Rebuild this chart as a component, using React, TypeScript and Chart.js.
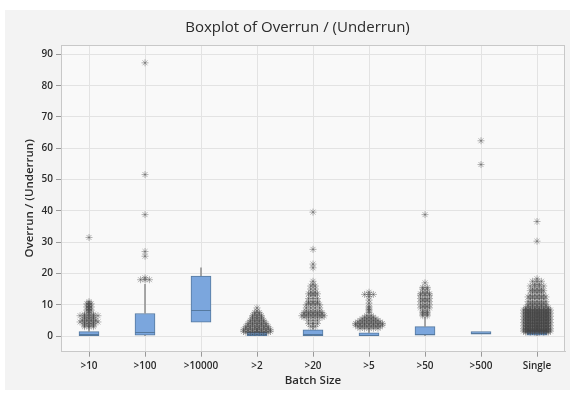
import React, { useEffect, useRef } from 'react';
import { Chart, registerables } from 'chart.js';

Chart.register(...registerables);

const categories = ['>10', '>100', '>10000', '>2', '>20', '>5', '>50', '>500', 'Single'];
const q1Values = [0, 0.3, 4.4, 0.1, 0.1, 0, 0.3, 0.6, 0.3];
const medianValues = [0.5, 1.4, 8.3, 0.6, 0.8, 0.4, 0.6, 1.0, 0.9];
const q3Values = [1.4, 7.2, 19.2, 1.3, 2.0, 1.0, 3.0, 1.4, 1.8];
const whiskerLowValues = [0, 0, 4.4, 0, 0, 0, 0, 0.6, 0];
const whiskerHighValues = [3.4, 16.6, 21.9, 2.7, 4.5, 2.4, 6.0, 1.4, 3.8];
const yTickValues = [0, 10, 20, 30, 40, 50, 60, 70, 80, 90];

// outliers: [value, count]
const outliersGt10: [number, number][] = [
  [3, 3], [3.5, 3], [4, 3], [4.5, 5], [5, 4], [5.5, 3], [6, 3], [6.5, 5], [7, 3],
  [7.5, 1], [8, 1], [8.3, 2], [8.5, 1], [9, 1], [9.3, 2], [9.5, 1], [10, 1], [10.3, 2], [10.5, 1], [11, 1], [31.5, 1],
];
const outliersGt100: [number, number][] = [
  [18, 3], [18.6, 1], [25.5, 1], [27, 1], [38.8, 1], [51.6, 1], [87.3, 1],
];
const outliersGt10000: [number, number][] = [];
const outliersGt2: [number, number][] = [
  [9, 1], [8, 1], [7.5, 2], [7, 2], [6.5, 3], [6, 3], [5.5, 3], [5, 4], [4.5, 4],
  [4, 5], [3.5, 5], [3, 6], [2.5, 6], [2, 7], [1.5, 7], [1.2, 6],
];
const outliersGt20: [number, number][] = [
  [39.6, 1], [27.7, 1], [23, 1], [21.8, 1],
  [17.5, 1], [16.5, 1], [16, 2], [15, 2], [14, 2], [13.5, 3], [13, 2], [12, 3], [11, 3],
  [10.5, 3], [10, 4], [9, 4], [8, 4], [7.5, 5], [7, 5], [6.5, 6], [6, 5], [5, 3], [4, 3], [3, 2],
];
const outliersGt5: [number, number][] = [
  [14, 1], [13.3, 3], [12.6, 1], [11.5, 1], [10.5, 1], [9.5, 1], [9, 1], [8.5, 1], [8, 1], [7.5, 1],
  [6.5, 2], [6, 3], [5.5, 4], [5, 5], [4.5, 6], [4, 7], [3.5, 7], [3, 6], [2.5, 5],
];
const outliersGt50: [number, number][] = [
  [38.8, 1], [17, 1], [15.5, 2], [15, 2], [14, 2], [13.5, 3], [13, 3], [12, 3], [11.5, 2],
  [11, 3], [10, 3], [9.5, 2], [9, 3], [8, 2], [7.5, 2], [7, 2], [6.5, 2],
];
const outliersGt500: [number, number][] = [[54.8, 1], [62.4, 1]];
const outliersSingle: [number, number][] = [
  [36.6, 1], [30.3, 1],
  [18.3, 1], [17.5, 3], [16.5, 2], [16, 4], [15, 3], [14.5, 4], [14, 3], [13, 4], [12.5, 5],
  [12, 4], [11, 5], [10.5, 4], [10, 5], [9.5, 5],
  [9, 6], [8.5, 6], [8, 6], [7.5, 6], [7, 6], [6.5, 6], [6, 6], [5.5, 6], [5, 6], [4.5, 6],
  [4, 6], [3.5, 6], [3, 6], [2.5, 6], [2, 6], [1.5, 6],
  [8, 5], [7, 5], [6, 5], [5, 5], [4, 5], [3, 5], [2, 5], [1.2, 6],
  [8.3, 7], [7.3, 7], [6.3, 7], [5.3, 7], [4.3, 7], [3.3, 7], [2.3, 7], [1.6, 7],
];
const outlierGroups = [
  outliersGt10, outliersGt100, outliersGt10000, outliersGt2, outliersGt20,
  outliersGt5, outliersGt50, outliersGt500, outliersSingle,
];

const DODGE = 0.08;
const GRID_COLOR = '#e3e3e3';
const TICK_COLOR = '#999999';

function buildOutlierPoints() {
  const pts: { x: number; y: number }[] = [];
  outlierGroups.forEach((group, i) => {
    group.forEach(([v, n]) => {
      for (let k = 0; k < n; k++) {
        pts.push({ x: i + (k - (n - 1) / 2) * DODGE, y: v });
      }
    });
  });
  return pts;
}

const boxPartsPlugin = {
  id: 'boxParts',
  beforeDraw(chart: any) {
    const { ctx, width, height, chartArea } = chart;
    ctx.save();
    ctx.fillStyle = '#ffffff';
    ctx.fillRect(0, 0, width, height);
    ctx.fillStyle = '#f3f3f3';
    ctx.fillRect(5, 10, width - 9, height - 16);
    ctx.fillStyle = '#f9f9f9';
    ctx.fillRect(chartArea.left, chartArea.top, chartArea.right - chartArea.left, chartArea.bottom - chartArea.top);
    ctx.restore();
  },
  beforeDatasetsDraw(chart: any) {
    const { ctx, chartArea } = chart;
    const xs = chart.scales.x;
    ctx.save();
    ctx.lineWidth = 1;
    categories.forEach((_, i) => {
      const px = Math.round(xs.getPixelForValue(i)) + 0.5;
      ctx.strokeStyle = GRID_COLOR;
      ctx.beginPath();
      ctx.moveTo(px, chartArea.top);
      ctx.lineTo(px, chartArea.bottom);
      ctx.stroke();
      ctx.strokeStyle = TICK_COLOR;
      ctx.beginPath();
      ctx.moveTo(px, chartArea.bottom);
      ctx.lineTo(px, chartArea.bottom + 5);
      ctx.stroke();
    });
    ctx.restore();
  },
  afterDatasetDraw(chart: any, args: any) {
    if (args.index !== 0) return;
    const { ctx } = chart;
    const xs = chart.scales.x;
    const ys = chart.scales.y;
    const meta = chart.getDatasetMeta(0);
    ctx.save();
    meta.data.forEach((bar: any, i: number) => {
      const cx = xs.getPixelForValue(i);
      const half = bar.width / 2;
      ctx.strokeStyle = '#8c8c8c';
      ctx.lineWidth = 1.5;
      if (whiskerHighValues[i] > q3Values[i]) {
        ctx.beginPath();
        ctx.moveTo(cx, ys.getPixelForValue(q3Values[i]));
        ctx.lineTo(cx, ys.getPixelForValue(whiskerHighValues[i]));
        ctx.stroke();
      }
      if (whiskerLowValues[i] < q1Values[i]) {
        ctx.beginPath();
        ctx.moveTo(cx, ys.getPixelForValue(q1Values[i]));
        ctx.lineTo(cx, ys.getPixelForValue(whiskerLowValues[i]));
        ctx.stroke();
      }
      ctx.strokeStyle = '#55799f';
      ctx.lineWidth = 1;
      const my = Math.round(ys.getPixelForValue(medianValues[i])) + 0.5;
      ctx.beginPath();
      ctx.moveTo(cx - half, my);
      ctx.lineTo(cx + half, my);
      ctx.stroke();
    });
    ctx.restore();
  },
  afterDraw(chart: any) {
    const { ctx, chartArea } = chart;
    ctx.save();
    ctx.strokeStyle = '#c8c8c8';
    ctx.lineWidth = 1;
    ctx.strokeRect(
      Math.round(chartArea.left) + 0.5,
      Math.round(chartArea.top) + 0.5,
      Math.round(chartArea.right - chartArea.left) - 1,
      Math.round(chartArea.bottom - chartArea.top) - 1
    );
    ctx.restore();
  },
};

export default function App() {
  const canvasRef = useRef<HTMLCanvasElement | null>(null);

  useEffect(() => {
    document.body.style.margin = '0';
    const canvas = canvasRef.current;
    if (!canvas) return;
    const font = '"Open Sans", "Noto Sans", sans-serif';
    const chart = new Chart(canvas, {
      type: 'bar',
      data: {
        datasets: [
          {
            type: 'bar',
            label: 'IQR',
            data: categories.map((_, i) => ({ x: i, y: [q1Values[i], q3Values[i]] })) as any,
            backgroundColor: '#7ba6dd',
            borderColor: '#55799f',
            borderWidth: 1,
            borderSkipped: false,
            barThickness: 20,
            order: 2,
          } as any,
          {
            type: 'scatter',
            label: 'Outliers',
            data: buildOutlierPoints(),
            pointStyle: 'star',
            pointRadius: 3.5,
            pointBorderWidth: 0.8,
            borderColor: 'rgba(70,70,70,0.5)',
            backgroundColor: 'rgba(0,0,0,0)',
            order: 1,
          } as any,
        ],
      },
      options: {
        responsive: false,
        animation: false,
        layout: { padding: { left: 30, right: 9, top: 0, bottom: 0 } },
        plugins: {
          legend: { display: false },
          tooltip: { enabled: false },
          title: {
            display: true,
            text: 'Boxplot of Overrun / (Underrun)',
            color: '#2b2b2b',
            font: { family: font, size: 15, weight: 'normal' },
            padding: { top: 18.5, bottom: 8.5 },
          },
        },
        scales: {
          x: {
            type: 'linear',
            min: -0.5,
            max: 8.5,
            offset: false,
            afterBuildTicks: (scale: any) => {
              scale.ticks = categories.map((_, i) => ({ value: i }));
            },
            afterFit: (scale: any) => {
              scale.height = 44.3;
            },
            ticks: {
              callback: (v: any) => categories[Math.round(Number(v))] ?? '',
              color: '#2b2b2b',
              font: { family: font, size: 10, weight: '600' },
              padding: 8,
              maxRotation: 0,
              autoSkip: false,
            },
            grid: { display: false, drawTicks: false },
            border: { display: true, color: '#c8c8c8' },
            title: {
              display: true,
              text: 'Batch Size',
              color: '#2b2b2b',
              font: { family: font, size: 11.5, weight: '600' },
              padding: { top: 2, bottom: 8 },
            },
          },
          y: {
            type: 'linear',
            min: -5,
            max: 93,
            afterBuildTicks: (scale: any) => {
              scale.ticks = yTickValues.map((v) => ({ value: v }));
            },
            afterFit: (scale: any) => {
              scale.width = 31;
            },
            ticks: {
              color: '#2b2b2b',
              font: { family: font, size: 10, weight: '600' },
              padding: 3,
            },
            grid: { color: GRID_COLOR, tickColor: TICK_COLOR, tickLength: 5 },
            border: { color: '#c8c8c8' },
            title: {
              display: true,
              text: 'Overrun / (Underrun)',
              color: '#2b2b2b',
              font: { family: font, size: 11.5, weight: '600' },
              padding: { top: -7, bottom: 2 },
            },
          },
        },
      },
      plugins: [boxPartsPlugin as any],
    });
    return () => chart.destroy();
  }, []);

  return (
    <div style={{ position: 'absolute', left: 0, top: 0, width: 574, height: 396 }}>
      <canvas ref={canvasRef} width={574} height={396} />
    </div>
  );
}
